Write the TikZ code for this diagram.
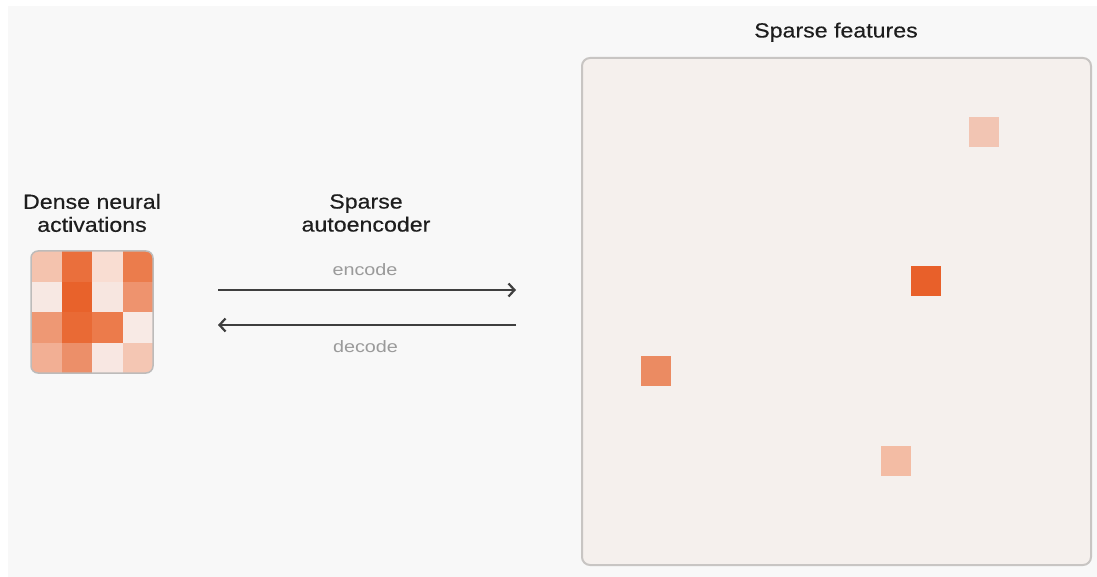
\documentclass[tikz,border=0pt]{standalone}
\usepackage{fontspec}
\setmainfont[FakeStretch=1.13,FakeBold=0.35]{Liberation Sans}
\newfontfamily\smallfam[FakeStretch=1.2]{Liberation Sans}
\usetikzlibrary{arrows.meta}
\definecolor{bgpanel}{HTML}{F8F8F8}
\definecolor{boxfill}{HTML}{F5F0ED}
\definecolor{boxline}{HTML}{C8C5C3}
\definecolor{gridline}{HTML}{BDBBBA}
\definecolor{txt}{HTML}{1E1E1E}
\definecolor{subtxt}{HTML}{9A9A9A}
\definecolor{arr}{HTML}{3F3F3F}
\definecolor{cA}{HTML}{F4C3AE}
\definecolor{cB}{HTML}{EA6F3C}
\definecolor{cC}{HTML}{F9DDD2}
\definecolor{cD}{HTML}{EB7C4C}
\definecolor{cE}{HTML}{F7E8E3}
\definecolor{cF}{HTML}{E8622B}
\definecolor{cG}{HTML}{F7E6E0}
\definecolor{cH}{HTML}{EE936E}
\definecolor{cI}{HTML}{EE9874}
\definecolor{cJ}{HTML}{E96A35}
\definecolor{cK}{HTML}{EC7B4B}
\definecolor{cL}{HTML}{F8EAE5}
\definecolor{cM}{HTML}{F2AF94}
\definecolor{cN}{HTML}{EC8F69}
\definecolor{cO}{HTML}{F8E7E2}
\definecolor{cP}{HTML}{F4C6B3}
\definecolor{fTop}{HTML}{F2C5B3}
\definecolor{fDark}{HTML}{E8602A}
\definecolor{fMid}{HTML}{EB8B62}
\definecolor{fLow}{HTML}{F3BCA4}
\tikzset{
  titletext/.style={text=txt, font=\fontsize{20.5}{23}\selectfont, align=center, inner sep=0pt},
  subtext/.style={text=subtxt, font=\smallfam\fontsize{16.5}{20}\selectfont, inner sep=0pt},
  flow/.style={draw=arr, line width=2.2pt, -{Straight Barb[length=6pt,width=13pt,line width=2.2pt]}},
  feat/.style={minimum width=30pt, minimum height=30pt, inner sep=0pt, outer sep=0pt, draw=none},
}
\begin{document}
\begin{tikzpicture}[x=1pt,y=-1pt]
\useasboundingbox (0,0) rectangle (1097,577);
\fill[white] (0,0) rectangle (1097,577);
\fill[bgpanel] (8,6) rectangle (1097,577);

% dense grid
\begin{scope}
\clip[rounded corners=7pt] (31,251) rectangle (153,373);
\foreach \c [count=\i from 0] in {cA,cB,cC,cD,cE,cF,cG,cH,cI,cJ,cK,cL,cM,cN,cO,cP}{
  \pgfmathtruncatemacro{\col}{mod(\i,4)}
  \pgfmathtruncatemacro{\row}{div(\i,4)}
  \fill[\c] ({31+30.5*\col},{251+30.5*\row}) rectangle ({31+30.5*(\col+1)},{251+30.5*(\row+1)});
}
\end{scope}
\node[draw=gridline, line width=1.5pt, rounded corners=7pt, minimum width=122pt, minimum height=122pt, inner sep=0pt] (dense) at (92,312) {};

\node[titletext] (denselbl) at (92,213) {Dense neural\\activations};
\node[titletext] (saelbl) at (366,213) {Sparse\\autoencoder};

% arrows
\coordinate (encL) at (218,290);
\coordinate (encR) at (516,290);
\coordinate (decR) at (516,325);
\coordinate (decL) at (218,325);
\draw[flow] (encL) -- (encR);
\draw[flow] (decR) -- (decL);
\node[subtext, anchor=base] (enclbl) at (365,276) {encode};
\node[subtext, anchor=base] (declbl) at (365.5,352) {decode};

% sparse features box
\node[draw=boxline, fill=boxfill, line width=2pt, rounded corners=8pt, minimum width=509pt, minimum height=507pt, inner sep=0pt] (sparse) at (836.5,311.5) {};
\node[text=txt, font=\fontsize{20.5}{23}\selectfont, anchor=base, inner sep=0pt] (sparselbl) at (836,37.5) {Sparse features};

\node[feat, fill=fTop] (f1) at (984,132) {};
\node[feat, fill=fDark] (f2) at (926,281) {};
\node[feat, fill=fMid] (f3) at (656,371) {};
\node[feat, fill=fLow] (f4) at (896,461) {};
\end{tikzpicture}
\end{document}
